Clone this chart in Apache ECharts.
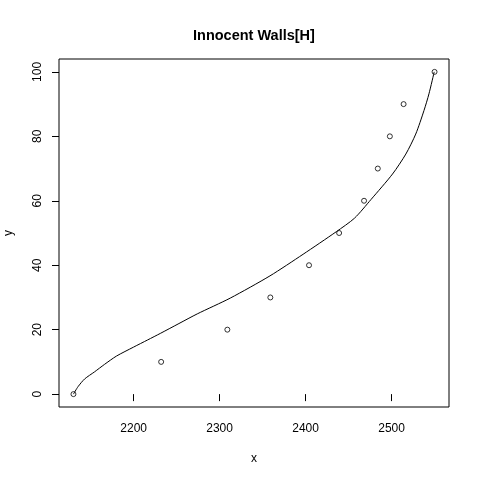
<!DOCTYPE html>
<html><head><meta charset="utf-8">
<script src="https://cdn.jsdelivr.net/npm/echarts@6/dist/echarts.min.js"></script>
<style>html,body{margin:0;padding:0;background:#fff}#c{width:480px;height:480px}</style>
</head><body><div id="c"></div>
<script>
const pointX = [2130, 2232, 2309, 2359, 2404, 2439, 2468, 2484, 2498, 2514, 2550];
const pointY = [0, 10, 20, 30, 40, 50, 60, 70, 80, 90, 100];
const curveX = [2130, 2135.3, 2143, 2154.5, 2166, 2180, 2200, 2216.2, 2231.5, 2252.7, 2274, 2312.4, 2358.6, 2397.1, 2435.7, 2456.9, 2476.1, 2501.1, 2516.6, 2528.1, 2537.7, 2543.5, 2549.6];
const curveY = [0, 2.3, 4.7, 6.9, 9.2, 11.8, 14.6, 16.8, 18.9, 21.9, 24.9, 29.8, 36.7, 43.4, 50.4, 54.6, 60.4, 68.3, 74.5, 80.7, 88.0, 93.2, 100];
const xTicks = [2200, 2300, 2400, 2500];
const yTicks = [0, 20, 40, 60, 80, 100];

const font = 'Liberation Sans, Arial, sans-serif';
const chart = echarts.init(document.getElementById('c'));
chart.setOption({
  animation: false,
  title: { text: 'Innocent Walls[H]', left: 188, top: 23,
    textStyle: { fontFamily: font, fontSize: 14.5, fontWeight: 'bold', color: '#000' } },
  grid: { left: 59, right: 31, top: 59, bottom: 73, show: true, borderColor: '#000', borderWidth: 1,
    backgroundColor: 'transparent', containLabel: false, outerBoundsMode: 'none' },
  xAxis: {
    type: 'value', min: 2113.2, max: 2566.8,
    name: 'x', nameLocation: 'middle', nameGap: 46,
    nameTextStyle: { fontFamily: font, fontSize: 12, color: '#000' },
    axisLine: { show: false },
    splitLine: { show: false },
    axisTick: { show: true, length: 7, lineStyle: { color: '#000' }, customValues: xTicks },
    axisLabel: { fontFamily: font, fontSize: 12, color: '#000', margin: 16, customValues: xTicks,
      formatter: v => String(v) }
  },
  yAxis: {
    type: 'value', min: -4, max: 104,
    name: 'y', nameLocation: 'middle', nameGap: 44, nameRotate: 90,
    nameTextStyle: { fontFamily: font, fontSize: 12, color: '#000' },
    axisLine: { show: false },
    splitLine: { show: false },
    axisTick: { show: true, length: 7, lineStyle: { color: '#000' }, customValues: yTicks },
    axisLabel: { fontFamily: font, fontSize: 12, color: '#000', margin: 15, rotate: 90, customValues: yTicks,
      formatter: v => String(v) }
  },
  series: [
    { type: 'line', data: curveX.map((x, i) => [x, curveY[i]]), showSymbol: false, smooth: 0.25,
      lineStyle: { color: '#000', width: 1 } },
    { type: 'scatter', data: pointX.map((x, i) => [x, pointY[i]]), symbol: 'circle', symbolSize: 5,
      itemStyle: { color: 'transparent', borderColor: '#000', borderWidth: 1 } }
  ]
});
</script></body></html>
